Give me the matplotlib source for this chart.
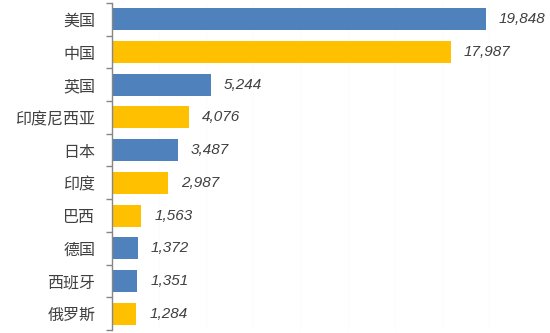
import numpy as np
import matplotlib.pyplot as plt

plt.rcParams['font.family'] = ['Noto Sans CJK SC', 'DejaVu Sans']

# 数据
countries = ['美国', '中国', '英国', '印度尼西亚', '日本', '印度', '巴西', '德国', '西班牙', '俄罗斯']
values = [19848, 17987, 5244, 4076, 3487, 2987, 1563, 1372, 1351, 1284]
colors = ['#4F81BD', '#FFC000', '#4F81BD', '#FFC000', '#4F81BD',
          '#FFC000', '#FFC000', '#4F81BD', '#4F81BD', '#FFC000']

fig = plt.figure(figsize=(5.5, 3.33), dpi=100)
ax = fig.add_axes([112 / 550, 3 / 333, (536 - 112) / 550, 327 / 333])

y = np.arange(len(countries))
ax.barh(y, values, height=0.67, color=colors)

# 数值标签
for yi, v in zip(y, values):
    ax.annotate(f'{v:,}', xy=(v, yi), xytext=(13, 0), textcoords='offset pixels',
                va='center', ha='left', fontsize=11, style='italic',
                family='Liberation Sans', color='#404040')

ax.set_xlim(0, 22500)
ax.set_ylim(len(countries) - 0.5, -0.5)

# 很淡的网格线
for gx in np.arange(2500, 22500, 2500):
    ax.axvline(gx, color='#fcfcfc', lw=0.8, zorder=0)

ax.set_yticks(y)
ax.set_yticklabels(countries, fontsize=11.5, color='#404040')
ax.tick_params(axis='y', which='major', length=0, pad=12)
ax.set_yticks(np.arange(-0.5, len(countries), 1), minor=True)
ax.tick_params(axis='y', which='minor', length=4, width=1, color='#868686')
ax.set_xticks([])

for s in ['top', 'right', 'bottom']:
    ax.spines[s].set_visible(False)
ax.spines['left'].set_color('#868686')
ax.spines['left'].set_linewidth(1)

fig.savefig('out.png', dpi=100)
